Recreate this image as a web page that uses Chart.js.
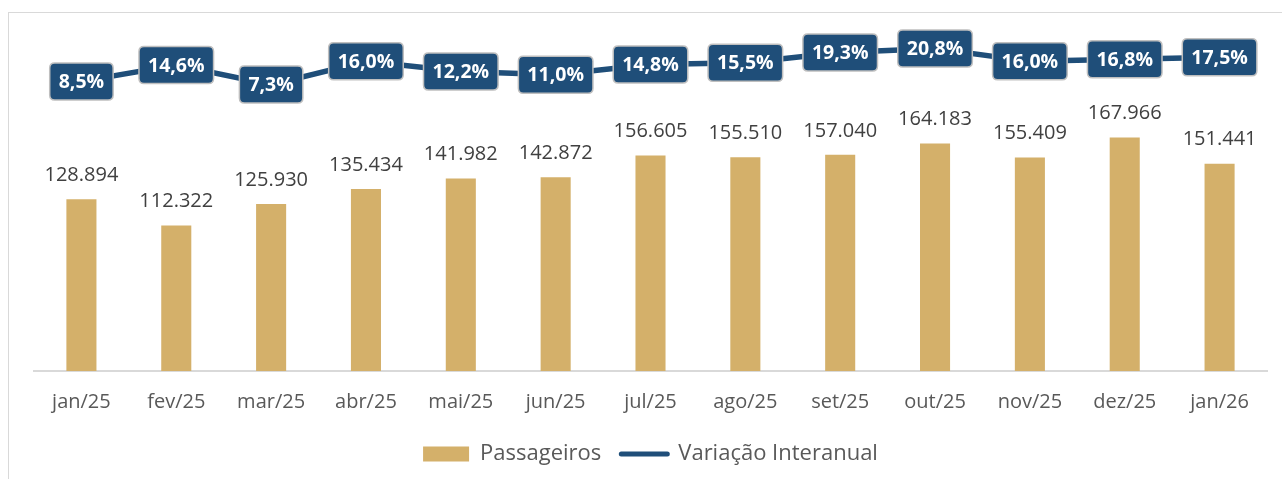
<!DOCTYPE html>
<html lang="pt-BR">
<head>
<meta charset="utf-8">
<title>Passageiros e Variação Interanual</title>
<script src="https://cdn.jsdelivr.net/npm/chart.js@4.4.1/dist/chart.umd.min.js"></script>
<style>
    html, body { margin: 0; padding: 0; background: #fff; overflow: hidden; }
    .frame {
        position: absolute; left: 8px; top: 12px;
        width: 1400px; height: 600px;
        border: 1.5px solid #D9D9D9;
    }
    #chart { position: absolute; left: 0; top: 0; }
</style>
</head>
<body>
<div class="frame"></div>
<canvas id="chart" width="1282" height="479"></canvas>
<script>
const categories = ['jan/25', 'fev/25', 'mar/25', 'abr/25', 'mai/25', 'jun/25', 'jul/25',
    'ago/25', 'set/25', 'out/25', 'nov/25', 'dez/25', 'jan/26'];
const passageiros = [128894, 112322, 125930, 135434, 141982, 142872, 156605,
    155510, 157040, 164183, 155409, 167966, 151441];
const variacao = [8.5, 14.6, 7.3, 16.0, 12.2, 11.0, 14.8, 15.5, 19.3, 20.8, 16.0, 16.8, 17.5];

const GOLD = '#D4B06A';
const NAVY = '#1F4E79';
const FONT = "'Open Sans', 'Noto Sans', sans-serif";

function formatThousands(v) {
    return String(v).replace(/\B(?=(\d{3})+(?!\d))/g, '.');
}

function formatPct(v) {
    return v.toFixed(1).replace('.', ',') + '%';
}

function roundRect(ctx, x, y, w, h, r) {
    ctx.beginPath();
    ctx.moveTo(x + r, y);
    ctx.lineTo(x + w - r, y);
    ctx.quadraticCurveTo(x + w, y, x + w, y + r);
    ctx.lineTo(x + w, y + h - r);
    ctx.quadraticCurveTo(x + w, y + h, x + w - r, y + h);
    ctx.lineTo(x + r, y + h);
    ctx.quadraticCurveTo(x, y + h, x, y + h - r);
    ctx.lineTo(x, y + r);
    ctx.quadraticCurveTo(x, y, x + r, y);
    ctx.closePath();
}

// labels above the bars and boxed labels on the line
const valueLabels = {
    id: 'valueLabels',
    afterDatasetsDraw(chart) {
        const ctx = chart.ctx;
        ctx.save();

        const barMeta = chart.getDatasetMeta(0);
        ctx.font = `20px ${FONT}`;
        ctx.fillStyle = '#404040';
        ctx.textAlign = 'center';
        ctx.textBaseline = 'middle';
        barMeta.data.forEach((bar, i) => {
            ctx.fillText(formatThousands(passageiros[i]), bar.x, bar.y - 24);
        });

        const lineMeta = chart.getDatasetMeta(1);
        ctx.font = `bold 19.5px ${FONT}`;
        lineMeta.data.forEach((pt, i) => {
            const text = formatPct(variacao[i]);
            const w = ctx.measureText(text).width + 18;
            const h = 37;
            roundRect(ctx, pt.x - w / 2, pt.y - h / 2, w, h, 5);
            ctx.fillStyle = NAVY;
            ctx.fill();
            ctx.lineWidth = 1.5;
            ctx.strokeStyle = '#BFBFBF';
            ctx.stroke();
            ctx.fillStyle = '#FFFFFF';
            ctx.fillText(text, pt.x, pt.y + 1);
        });
        ctx.restore();
    }
};

new Chart(document.getElementById('chart'), {
    type: 'bar',
    data: {
        labels: categories,
        datasets: [
            {
                type: 'bar',
                label: 'Passageiros',
                data: passageiros,
                backgroundColor: GOLD,
                yAxisID: 'y',
                barPercentage: 0.317,
                categoryPercentage: 1,
                order: 1
            },
            {
                type: 'line',
                label: 'Variação Interanual',
                data: variacao,
                borderColor: NAVY,
                borderWidth: 5.5,
                pointRadius: 0,
                tension: 0,
                yAxisID: 'y1',
                order: 0
            }
        ]
    },
    options: {
        responsive: false,
        devicePixelRatio: 1,
        animation: false,
        layout: {
            padding: { left: 34, right: 15, top: 24, bottom: 4 }
        },
        scales: {
            x: {
                grid: { display: false, drawTicks: false },
                border: { display: true, color: '#D9D9D9', width: 2 },
                ticks: {
                    color: '#595959',
                    font: { family: FONT, size: 20 },
                    padding: 19,
                    maxRotation: 0
                },
                afterFit(scale) { scale.height = 52; }
            },
            y: {
                display: false,
                min: 20000,
                max: 240000
            },
            y1: {
                display: false,
                position: 'right',
                min: -100,
                max: 30
            }
        },
        plugins: {
            tooltip: { enabled: false },
            legend: {
                position: 'bottom',
                labels: {
                    color: '#595959',
                    font: { family: FONT, size: 22 },
                    usePointStyle: true,
                    pointStyleWidth: 46,
                    boxHeight: 15,
                    padding: 20,
                    generateLabels() {
                        return [
                            {
                                text: 'Passageiros',
                                fillStyle: GOLD,
                                strokeStyle: GOLD,
                                lineWidth: 0,
                                pointStyle: 'rect',
                                fontColor: '#595959',
                                datasetIndex: 0
                            },
                            {
                                text: 'Variação Interanual',
                                fillStyle: NAVY,
                                strokeStyle: NAVY,
                                lineWidth: 5,
                                lineCap: 'round',
                                pointStyle: 'line',
                                fontColor: '#595959',
                                datasetIndex: 1
                            }
                        ];
                    }
                }
            }
        }
    },
    plugins: [valueLabels]
});
</script>
</body>
</html>
